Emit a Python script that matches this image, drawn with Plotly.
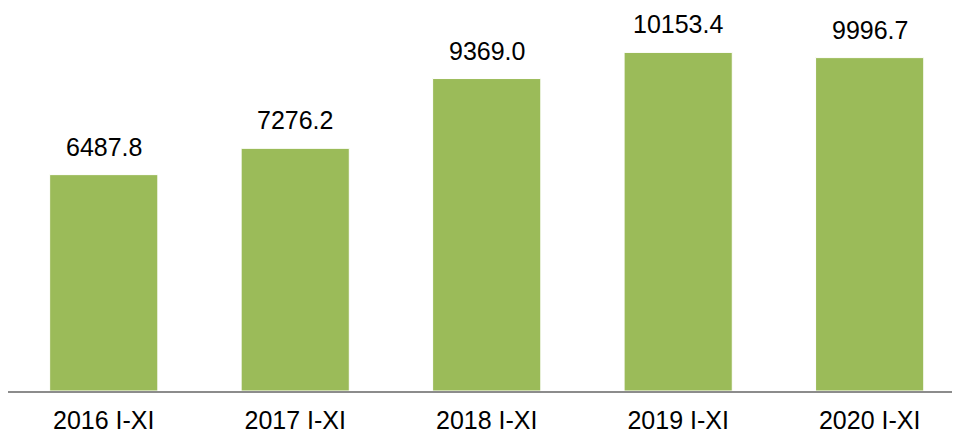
import plotly.graph_objects as go

categories = ["2016 I-XI", "2017 I-XI", "2018 I-XI", "2019 I-XI", "2020 I-XI"]
values = [6487.8, 7276.2, 9369.0, 10153.4, 9996.7]
labels = ["6487.8", "7276.2", "9369.0", "10153.4", "9996.7"]

fig = go.Figure()
fig.add_trace(go.Bar(
    x=list(range(len(categories))),
    y=values,
    width=0.565,
    marker=dict(color="#9BBB59", line=dict(color="white", width=1)),
    hoverinfo="skip",
))

for i, (v, t) in enumerate(zip(values, labels)):
    fig.add_annotation(x=i, y=v, text=t, showarrow=False, yanchor="bottom",
                       yshift=12, font=dict(family="Liberation Sans, Arial", size=25, color="#000000"))

fig.update_layout(
    width=953, height=433,
    margin=dict(l=8, r=1, t=0, b=42, autoexpand=False),
    paper_bgcolor="white", plot_bgcolor="white",
    showlegend=False,
    font=dict(family="Liberation Sans, Arial", size=25, color="#000000"),
)
fig.update_xaxes(
    range=[-0.5, 4.43], automargin=False,
    tickmode="array", tickvals=list(range(len(categories))), ticktext=categories,
    showline=True, linecolor="#8C8C8C", linewidth=2,
    showgrid=False, zeroline=False, ticks="", ticklabelstandoff=6,
    tickfont=dict(family="Liberation Sans, Arial", size=25, color="#000000"),
)
fig.update_yaxes(range=[0, 11724], visible=False, showgrid=False, zeroline=False, automargin=False)

fig.write_html("out.html", config={"displayModeBar": False},
               post_script="document.body.style.margin='0';document.body.style.overflow='hidden';")
